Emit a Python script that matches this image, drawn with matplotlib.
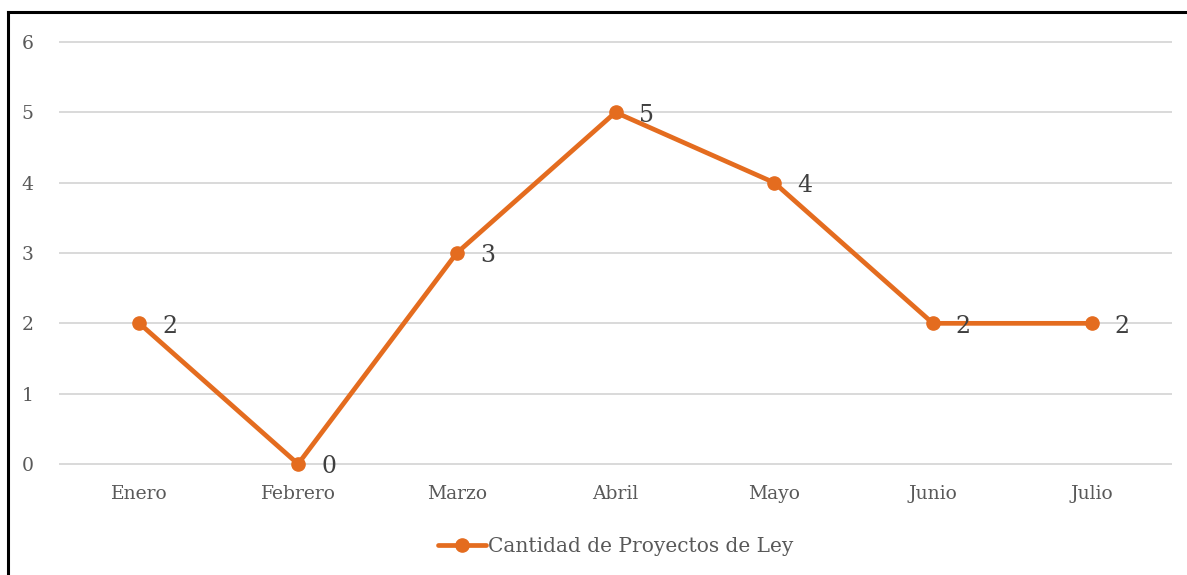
import matplotlib.pyplot as plt
from matplotlib.lines import Line2D

# data
meses = ['Enero', 'Febrero', 'Marzo', 'Abril', 'Mayo', 'Junio', 'Julio']
proyectos = [2, 0, 3, 5, 4, 2, 2]
serie = 'Cantidad de Proyectos de Ley'

naranja = '#E46C1F'
gris_texto = '#595959'

plt.rcParams['font.family'] = ['DejaVu Serif']

fig = plt.figure(figsize=(11.87, 5.75), dpi=100)
ax = fig.add_axes([60 / 1187, 1 - 464 / 575, 1111 / 1187, 422 / 575])

x = range(len(meses))
ax.plot(x, proyectos, color=naranja, lw=3.4, marker='o', markersize=9.5,
        solid_capstyle='round', label=serie, zorder=3, clip_on=False)

for xi, v in zip(x, proyectos):
    ax.annotate(str(v), (xi, v), xytext=(22, -2), textcoords='offset points',
                ha='center', va='center', fontsize=17, color='#404040')

ax.set_xlim(-0.5, 6.5)
ax.set_ylim(0, 6)
ax.set_yticks(range(0, 7))
ax.set_xticks(list(x))
ax.set_xticklabels(meses)
ax.grid(axis='y', color='#D9D9D9', lw=1.4)
for gl in ax.get_ygridlines():
    gl.set_clip_on(False)
ax.set_axisbelow(True)
for s in ax.spines.values():
    s.set_visible(False)
ax.tick_params(axis='both', length=0, colors=gris_texto, labelsize=13.5)
ax.tick_params(axis='x', pad=15)
ax.tick_params(axis='y', pad=19)

ax.legend(loc='center', bbox_to_anchor=(0.5, -0.195), frameon=False,
          fontsize=14.5, labelcolor=gris_texto, handlelength=2.4,
          handletextpad=0.1)

# marco negro (arriba e izquierda)
fig.add_artist(Line2D([7.5 / 1187, 1], [1 - 11.5 / 575] * 2, color='black', lw=2.2))
fig.add_artist(Line2D([7.5 / 1187] * 2, [0, 1 - 11.5 / 575], color='black', lw=2.2))

fig.savefig('out.png', dpi=100)
